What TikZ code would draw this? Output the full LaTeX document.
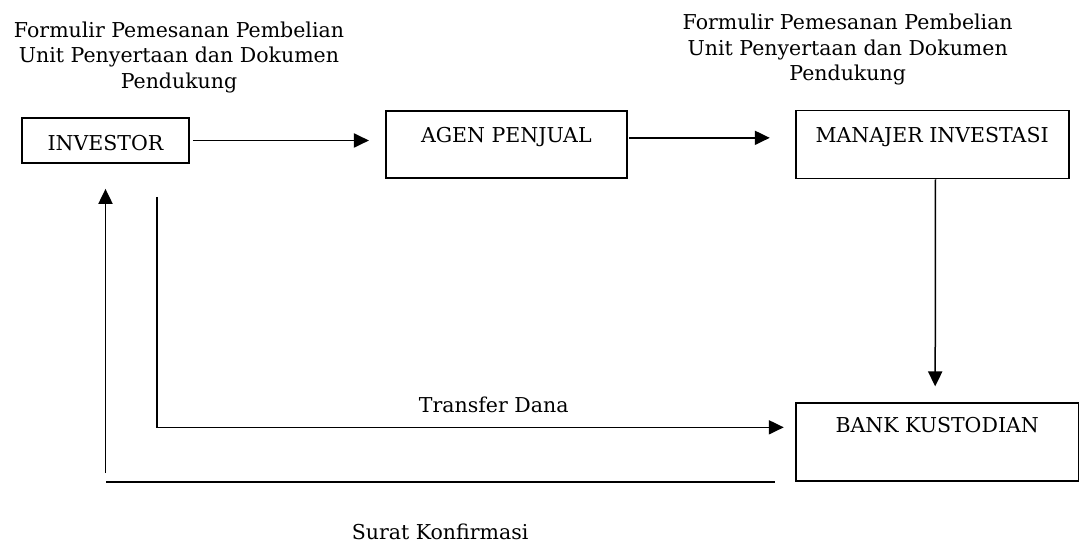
\documentclass[tikz,border=0pt]{standalone}
\usepackage{fontspec}
\setmainfont{DejaVu Serif}
\usetikzlibrary{positioning,arrows.meta}

\begin{document}
\begin{tikzpicture}[x=0.6pt, y=-0.6pt, font=\fontsize{12.3}{15.3}\selectfont,
	box/.style = {draw, line width=1.1pt, inner xsep=0pt, text height=9pt},
	arr/.style = {-{Triangle[length=9pt, width=8.5pt]}, line width=0.9pt},
	lbl/.style = {align=center, inner sep=0pt}]
\useasboundingbox (0,0) rectangle (1079,544);

\node[box, minimum width=100.2pt, minimum height=27pt, inner ysep=0pt, text height=12pt] (investor) at (105.5,140.5) {INVESTOR};
\node[box, minimum width=144.6pt, inner ysep=9.9pt, text depth=11.4pt, right=117pt of investor, yshift=-2.4pt] (agen) {AGEN PENJUAL};
\node[box, minimum width=163.8pt, inner ysep=10.5pt, text depth=10.8pt, right=100.2pt of agen] (manajer) {MANAJER INVESTASI};
\node[box, minimum width=169.8pt, inner ysep=8.7pt, text depth=20.4pt, below=133.8pt of manajer.south west, anchor=north west] (bank) {BANK KUSTODIAN};

\node[lbl] (form kiri)  at ([xshift=44.1pt, yshift=50pt]investor.center) {Formulir Pemesanan Pembelian\\Unit Penyertaan dan Dokumen\\Pendukung};
\node[lbl] (form kanan) at ([xshift=-50.7pt, yshift=57pt]manajer.center) {Formulir Pemesanan Pembelian\\Unit Penyertaan dan Dokumen\\Pendukung};

\draw[arr, shorten <=1.8pt, shorten >=9.6pt] (investor.east) -- (investor.east -| agen.west);
\draw[arr, shorten <=1pt, shorten >=15pt] ([yshift=4pt]agen.east) -- ([yshift=4pt]manajer.west);
\draw[arr, shorten >=9.6pt] ([xshift=2pt]manajer.south) -- ([xshift=-1.2pt]bank.north);
\draw[arr, shorten >=6.6pt] ([xshift=30.9pt, yshift=-19.8pt]investor.south) |- node[above=5pt, pos=0.764] {Transfer Dana} ([yshift=9pt]bank.west);
\draw[line width=0.9pt] ([xshift=-12pt]bank.south west) -- node[below=21pt] {Surat Konfirmasi} (bank.south west -| investor.south);
\draw[arr, shorten <=5.4pt, shorten >=15pt] (bank.south west -| investor.south) -- (investor.south);
\end{tikzpicture}
\end{document}
